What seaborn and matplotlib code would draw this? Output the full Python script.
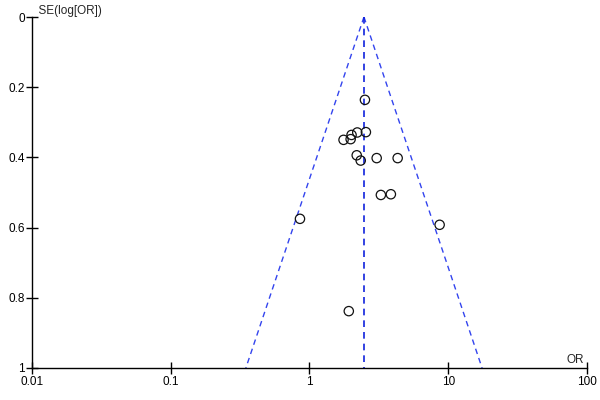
import numpy as np
import matplotlib
matplotlib.use("Agg")
import matplotlib.pyplot as plt
import pandas as pd
import seaborn as sns

# study estimates
odds_ratio = [2.51, 2.55, 2.21, 2.01, 1.98, 1.76, 2.19, 2.34, 3.05, 4.32,
              3.27, 3.86, 0.854, 8.67, 1.92]
se_log_or = [0.236, 0.328, 0.329, 0.336, 0.348, 0.350, 0.394, 0.409, 0.402,
             0.402, 0.507, 0.505, 0.575, 0.592, 0.838]
pooled_or = 2.47
z = 1.96

x_ticks = [0.01, 0.1, 1, 10, 100]
x_labels = ["0.01", "0.1", "1", "10", "100"]
y_ticks = [0, 0.2, 0.4, 0.6, 0.8, 1]
y_labels = ["0", "0.2", "0.4", "0.6", "0.8", "1"]

df = pd.DataFrame({"OR": odds_ratio, "SE": se_log_or})

sns.set_theme(style="white")
plt.rcParams["font.family"] = ["Liberation Sans", "DejaVu Sans"]

fig = plt.figure(figsize=(6, 4), dpi=100)
ax = fig.add_axes([0.0533, 0.08, 0.925, 0.8775])

# funnel: pseudo 95% limits around the pooled estimate
se_line = np.array([0.0, 1.0])
ax.plot(pooled_or * np.exp(-z * se_line), se_line, ls=(0, (4, 3)),
        color="#3344ee", lw=1)
ax.plot(pooled_or * np.exp(z * se_line), se_line, ls=(0, (4, 3)),
        color="#3344ee", lw=1)
ax.plot([pooled_or, pooled_or], se_line, ls=(0, (4, 3)), color="#1122dd",
        lw=1.2)

sns.scatterplot(data=df, x="OR", y="SE", ax=ax, s=45, facecolor="none",
                edgecolor="#111111", linewidth=0.9, zorder=3)

ax.set_xscale("log")
ax.set_xlim(0.01, 100)
ax.set_ylim(1, 0)
ax.set_xticks(x_ticks)
ax.set_xticklabels(x_labels)
ax.set_yticks(y_ticks)
ax.set_yticklabels(y_labels)
ax.minorticks_off()
ax.set_xlabel("")
ax.set_ylabel("")

for side in ["top", "right"]:
    ax.spines[side].set_visible(False)
for side in ["left", "bottom"]:
    ax.spines[side].set_color("black")
    ax.spines[side].set_linewidth(1)
ax.tick_params(axis="both", which="major", bottom=True, left=True,
               direction="inout", length=8, width=1, colors="black",
               labelsize=8.5)
ax.tick_params(axis="x", pad=2)
ax.tick_params(axis="y", pad=1)

ax.text(0.0, 1.0, "  SE(log[OR])", transform=ax.transAxes, fontsize=8.5,
        ha="left", va="bottom")
ax.text(0.995, 0.005, "OR", transform=ax.transAxes, fontsize=8.5,
        ha="right", va="bottom")

fig.savefig("out.png", dpi=100)
